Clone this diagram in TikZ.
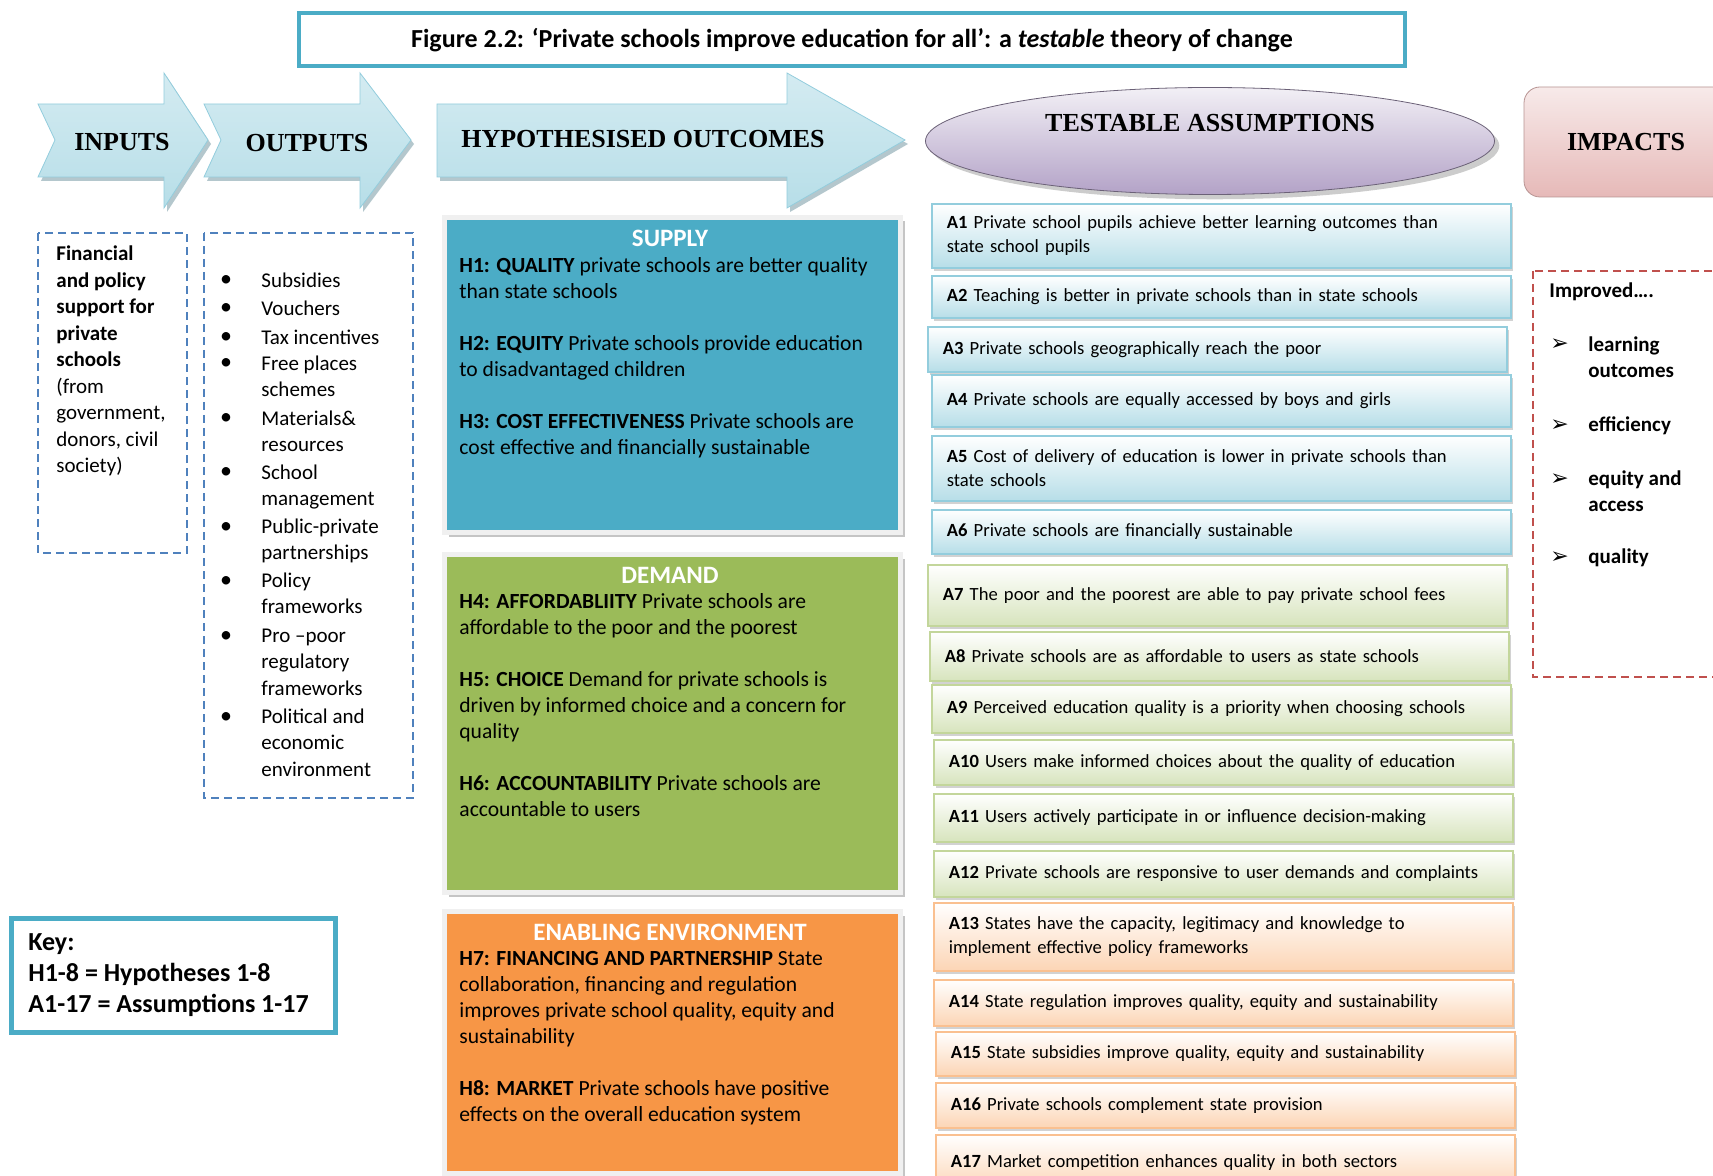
\documentclass[tikz,border=0pt]{standalone}
\usepackage{fontspec}
\setmainfont{Carlito}
\newfontfamily\headfont{Liberation Serif}
\newfontfamily\symfont{DejaVu Sans}
\usetikzlibrary{shapes.geometric,shadows}

\definecolor{aqua}{HTML}{4BACC6}
\definecolor{aquapale}{HTML}{B7DEE8}
\definecolor{aquaedge}{HTML}{93CDDD}
\definecolor{leaf}{HTML}{9BBB59}
\definecolor{leafpale}{HTML}{D7E4BD}
\definecolor{leafedge}{HTML}{C3D69B}
\definecolor{tang}{HTML}{F79646}
\definecolor{tangpale}{HTML}{FCD5B5}
\definecolor{tangedge}{HTML}{FAC090}
\definecolor{lilac}{HTML}{B3A2C7}
\definecolor{lilacpale}{HTML}{E5E0EC}
\definecolor{rose}{HTML}{E6B9B8}
\definecolor{rosepale}{HTML}{F2DCDB}
\definecolor{dashblue}{HTML}{4F81BD}
\definecolor{dashred}{HTML}{C0504D}

\begin{document}
\begin{tikzpicture}[x=0.5pt, y=-0.5pt,
    headlbl/.style={font=\headfont\bfseries\fontsize{13}{15}\selectfont, inner sep=0pt},
    abox/.style={anchor=north west, text width=274.5pt, inner xsep=7.5pt, inner ysep=0pt,
        align=left, font=\fontsize{9.3}{12}\selectfont, top color=white, bottom color=#1pale,
        draw=#1edge, line width=0.8pt,
        drop shadow={shadow xshift=1pt, shadow yshift=-1.5pt, opacity=0.35}},
    hbox/.style={anchor=north west, minimum width=228pt, inner sep=0pt, fill=#1, draw=black!6,
        line width=2.5pt, drop shadow={shadow xshift=2pt, shadow yshift=-2pt, opacity=0.45}},
    htitle/.style={font=\bfseries\fontsize{12.5}{14}\selectfont, text=white, inner sep=0pt},
    hbody/.style={anchor=north west, align=left, inner sep=0pt, font=\fontsize{10.8}{13}\selectfont},
    plain/.style={anchor=north west, align=left, inner sep=0pt, font=\fontsize{10.5}{13.2}\selectfont},
    dashbox/.style={draw=#1, line width=0.9pt, dash pattern=on 4pt off 2.5pt}]

    % Page
    \useasboundingbox (0,0) rectangle (1713,1176);
    \clip (0,0) rectangle (1713,1176);
    \fill[white] (0,0) rectangle (1713,1176);

    % Title
    \node[draw=aqua, line width=2pt, minimum width=553pt, minimum height=26.5pt,
        font=\bfseries\fontsize{13}{15}\selectfont] (title) at (852,40)
        {Figure 2.2: ‘Private schools improve education for all’: a \textit{testable} theory of change};

    % Stage arrows
    \foreach \a/\n/\h/\p in {38/55/164/208, 204/221/360/411, 437/437/787/905} {
        \fill[aqua!40!gray, opacity=0.5, shift={(3,4)}] (\a,104) -- (\h,104) -- (\h,73) -- (\p,140)
            -- (\h,208) -- (\h,177) -- (\a,177) -- (\n,140) -- cycle;
        \path[draw=aquaedge, top color=aquapale!60, middle color=aquapale!25, bottom color=aquapale]
            (\a,104) -- (\h,104) -- (\h,73) -- (\p,140) -- (\h,208) -- (\h,177) -- (\a,177) -- (\n,140) -- cycle;
    }
    \node[headlbl] (inputs) at (122,142) {INPUTS};
    \node[headlbl] (outputs) at (307,143) {OUTPUTS};
    \node[headlbl] (hypo) at (643,139) {HYPOTHESISED OUTCOMES};

    % Assumptions and impacts headers
    \node[ellipse, minimum width=284.5pt, minimum height=53.5pt, draw=lilac!60!black,
        top color=lilacpale!50, bottom color=lilac, drop shadow={opacity=0.4}] (assume) at (1210,141) {};
    \node[headlbl] (assumelbl) at (1210,123) {TESTABLE ASSUMPTIONS};
    \node[headlbl, rounded corners=8pt, minimum width=102pt, minimum height=55pt, draw=rose!80!black,
        top color=rosepale!60, bottom color=rose] (impacts) at (1626,142) {IMPACTS};

    % Inputs
    \draw[dashbox=dashblue] (38,233) rectangle (187,553);
    \node[plain, font=\fontsize{10.5}{13.25}\selectfont] (inlist) at (56,242)
        {\strut\textbf{Financial}\\\textbf{and policy}\\\textbf{support for}\\\textbf{private}\\\textbf{schools}\\
         (from\\government,\\donors, civil\\society)};

    % Outputs
    \draw[dashbox=dashblue] (204,233) rectangle (413,798);
    \foreach \y/\txt [count=\k] in {282/Subsidies, 310/Vouchers, 339/Tax incentives,
        365/{Free places\\schemes}, 420/{Materials\&\\resources}, 474/{School\\management},
        528/{Public-private\\partnerships}, 582/{Policy\\frameworks},
        637/{Pro --poor\\regulatory\\frameworks}, 718/{Political and\\economic\\environment}} {
        \node[plain, anchor=base, font=\fontsize{12}{13}\selectfont] (bul\k) at (226,\y+5) {\textbullet};
        \node[plain] (out\k) at (261,\y-13.5) {\strut\txt};
    }

    % Hypotheses
    \node[hbox=aqua, minimum height=157.5pt] (supply) at (442,215) {};
    \node[hbox=leaf, minimum height=169pt] (demand) at (442,552) {};
    \node[hbox=tang, minimum height=131pt] (enabling) at (442,909) {};
    \node[htitle] (supplyhd) at (670,238) {SUPPLY};
    \node[htitle] (demandhd) at (670,575) {DEMAND};
    \node[htitle] (enablinghd) at (670,932) {ENABLING ENVIRONMENT};
    \node[hbody] (supplytx) at (459,254)
        {\strut\textbf{H1: QUALITY} private schools are better quality\\than state schools\\[13pt]
         \textbf{H2: EQUITY} Private schools provide education\\to disadvantaged children\\[13pt]
         \textbf{H3: COST EFFECTIVENESS} Private schools are\\cost effective and financially sustainable};
    \node[hbody] (demandtx) at (459,590)
        {\strut\textbf{H4: AFFORDABLIITY} Private schools are\\affordable to the poor and the poorest\\[13pt]
         \textbf{H5: CHOICE} Demand for private schools is\\driven by informed choice and a concern for\\quality\\[13pt]
         \textbf{H6: ACCOUNTABILITY} Private schools are\\accountable to users};
    \node[hbody] (enablingtx) at (459,947)
        {\strut\textbf{H7: FINANCING AND PARTNERSHIP} State\\collaboration, financing and regulation\\
         improves private school quality, equity and\\sustainability\\[13pt]
         \textbf{H8: MARKET} Private schools have positive\\effects on the overall education system};

    % Testable assumptions
    \foreach \k/\xa/\ya/\yb/\c/\txt in {
        1/931/203/267/aqua/{Private school pupils achieve better learning outcomes than\\state school pupils},
        2/931/275/317/aqua/{Teaching is better in private schools than in state schools},
        3/927/326/371/aqua/{Private schools geographically reach the poor},
        4/931/374/426/aqua/{Private schools are equally accessed by boys and girls},
        5/931/435/500/aqua/{Cost of delivery of education is lower in private schools than\\state schools},
        6/931/509/553/aqua/{Private schools are financially sustainable},
        7/927/564/625/leaf/{The poor and the poorest are able to pay private school fees},
        8/929/631/680/leaf/{Private schools are as affordable to users as state schools},
        9/931/684/732/leaf/{Perceived education quality is a priority when choosing schools},
        10/933/739/784/leaf/{Users make informed choices about the quality of education},
        11/933/793/841/leaf/{Users actively participate in or influence decision-making},
        12/933/850/896/leaf/{Private schools are responsive to user demands and complaints},
        13/933/902/970/tang/{States have the capacity, legitimacy and knowledge to\\implement effective policy frameworks},
        14/933/979/1025/tang/{State regulation improves quality, equity and sustainability},
        15/935/1031/1075/tang/{State subsidies improve quality, equity and sustainability},
        16/935/1082/1127/tang/{Private schools complement state provision},
        17/935/1134/1190/tang/{Market competition enhances quality in both sectors}} {
        \node[abox=\c, minimum height=(\yb-\ya)*0.5pt] (A\k) at (\xa,\ya) {\textbf{A\k} \txt};
    }

    % Impacts
    \draw[dashbox=dashred] (1533,271) rectangle (1730,677);
    \node[plain, anchor=base west, font=\bfseries\fontsize{10.5}{13}\selectfont] (improved) at (1549,298) {Improved….};
    \foreach \y/\txt [count=\k] in {346/{learning\\outcomes}, 426/efficiency, 480/{equity and\\access}, 558/quality} {
        \node[plain, anchor=base west, font=\symfont\fontsize{11}{13}\selectfont] (tick\k) at (1550,\y+5) {➢};
        \node[plain, font=\bfseries\fontsize{10.5}{13}\selectfont] (imp\k) at (1588,\y-13.2) {\strut\txt};
    }

    % Key
    \node[draw=aqua, line width=2.5pt, anchor=north west, minimum width=162pt, minimum height=57pt] (keybox) at (9,916) {};
    \node[plain, font=\bfseries\fontsize{13}{15.5}\selectfont] (key) at (28,928)
        {\strut Key:\\H1-8 = Hypotheses 1-8\\A1-17 = Assumptions 1-17};

\end{tikzpicture}
\end{document}
